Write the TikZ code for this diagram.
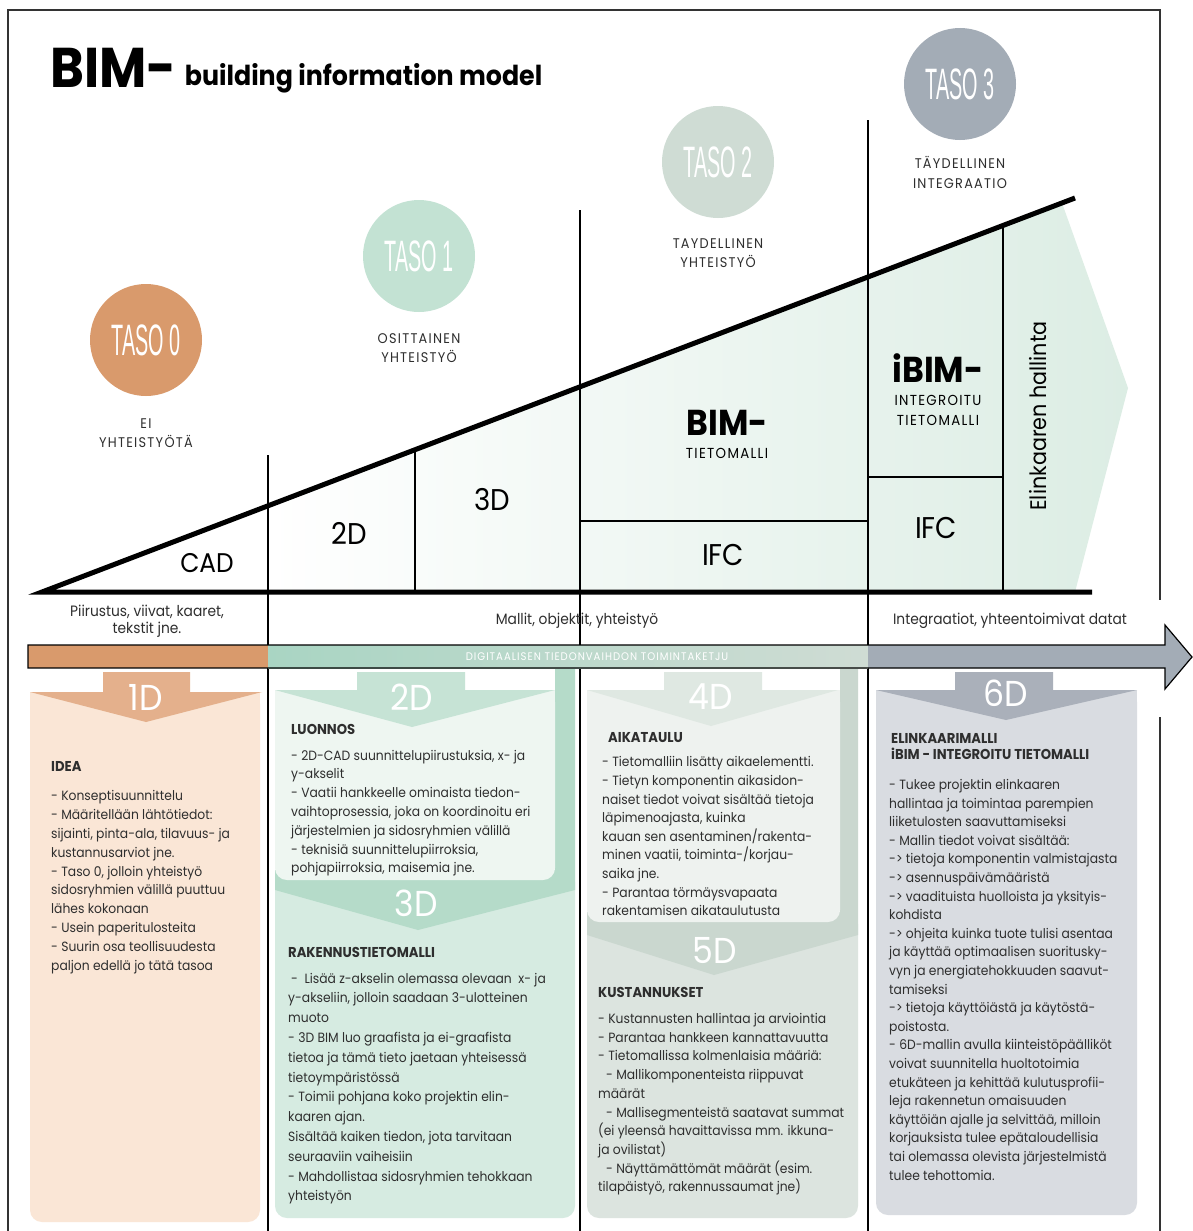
\documentclass[tikz,border=0pt]{standalone}
\usepackage{fontspec}
\setmainfont{Poppins}[FakeStretch=0.92]
\newfontfamily\capsfont{Poppins}[FakeStretch=0.92, LetterSpace=9]
\newfontfamily\tasofont{Liberation Sans}[FakeStretch=0.45]
\usetikzlibrary{positioning}

\definecolor{tasoorange}{HTML}{D99A6C}
\definecolor{tasomint}{HTML}{C3E2D3}
\definecolor{tasosage}{HTML}{CFDCD4}
\definecolor{tasogray}{HTML}{A3ACB6}
\definecolor{fillmint}{HTML}{DCEDE4}
\definecolor{txtgray}{HTML}{2E2E2E}
\definecolor{peachchev}{HTML}{E4B08C}
\definecolor{peachbody}{HTML}{FAE6D6}
\definecolor{mintchev}{HTML}{C6E3D5}
\definecolor{mintbody}{HTML}{EEF6F1}
\definecolor{mintdeep}{HTML}{B5DBC9}
\definecolor{mintlow}{HTML}{D6EBE1}
\definecolor{sagechev}{HTML}{DFE8E2}
\definecolor{sagebody}{HTML}{EEF2EF}
\definecolor{sagedeep}{HTML}{CAD7CF}
\definecolor{sagelow}{HTML}{DCE4DF}
\definecolor{graychev}{HTML}{AAB0BA}
\definecolor{graybody}{HTML}{D9DCE1}
\definecolor{bandmint}{HTML}{A9D5C3}

\tikzset{
  taso/.style = {circle, minimum size=112pt, inner sep=0pt, text=white,
    font=\tasofont\fontsize{44}{44}\selectfont},% tason pallo
  tasolab/.style = {align=center, inner sep=0pt, text=txtgray,
    font=\capsfont\fontsize{14}{19.5}\selectfont},% tason kuvaus
  part/.style = {inner sep=0pt, font=\fontsize{30}{30}\selectfont},% kolmion lohko
  bigbim/.style = {inner sep=0pt, font=\fontsize{36}{36}\selectfont\bfseries},
  smallcap/.style = {align=center, inner sep=0pt,
    font=\capsfont\fontsize{14.5}{20}\selectfont},
  dimtxt/.style = {text=white, inner sep=0pt,
    font=\fontsize{36}{36}\selectfont},% 1D ... 6D
  colhead/.style = {anchor=north west, align=left, inner sep=0pt, text=txtgray,
    font=\fontsize{14.3}{16.5}\selectfont\bfseries},% sarakkeen otsikko
  coltxt/.style = {anchor=north west, align=left, inner sep=0pt, text=txtgray,
    font=\fontsize{13.4}{18.8}\selectfont},% sarakkeen teksti
  rowtxt/.style = {align=center, inner sep=0pt, text=txtgray,
    font=\fontsize{15}{17}\selectfont},
  heavy/.style = {line width=5pt},% kolmion reunat
  divider/.style = {line width=2.6pt},
  thinline/.style = {line width=1.2pt}
}

\begin{document}
\begin{tikzpicture}[x=1pt, y=-1pt]
  \useasboundingbox (0,0) rectangle (1193,1231);
  \fill[white] (0,0) rectangle (1193,1231);

  % kolmion tausta
  \shade[left color=white, right color=fillmint]
    (268,505.8) -- (1062,203) -- (1128,388) -- (1075,592) -- (268,592) -- cycle;

  % otsikko
  \node[anchor=base west, inner sep=0pt,
    font=\fontsize{56}{56}\selectfont\bfseries] (bimtitle) at (50,88) {BIM-};
  \node[right=8pt of bimtitle.base east, anchor=base west, inner sep=0pt, yshift=3pt,
    font=\fontsize{27.5}{27.5}\selectfont\bfseries] (bimsub) {building information model};

  % tasot
  \node[taso, fill=tasoorange] (t0) at (146,340) {TASO 0};
  \node[taso, fill=tasomint] (t1) at (419,256) {TASO 1};
  \node[taso, fill=tasosage] (t2) at (718,162) {TASO 2};
  \node[taso, fill=tasogray] (t3) at (960,84) {TASO 3};
  \node[tasolab, below=22pt of t0] (t0lab) {EI\\YHTEISTYÖTÄ};
  \node[tasolab, below=21pt of t1] (t1lab) {OSITTAINEN\\YHTEISTYÖ};
  \node[tasolab, below=20pt of t2] (t2lab) {TAYDELLINEN\\YHTEISTYÖ};
  \node[tasolab, below=16pt of t3] (t3lab) {TÄYDELLINEN\\INTEGRAATIO};

  % viivat
  \coordinate (apex) at (42,592);
  \coordinate (baseEnd) at (1092,592);
  \coordinate (hypEnd) at (1075,198);
  \draw[thinline] (415,449.7) -- (415,592);
  \draw[thinline] (1003,225.5) -- (1003,592);
  \draw[thinline] (580,521) -- (868,521);
  \draw[thinline] (868,477) -- (1003,477);
  \foreach \x/\top in {268/455, 580/210, 868/120}
    \draw[divider] (\x,\top) -- (\x,1231);
  \draw[heavy] (hypEnd) -- (apex) -- (baseEnd);

  % kolmion tekstit
  \node[part, font=\fontsize{27}{27}\selectfont] (cad) at (207,563) {CAD};
  \node[part] (p2d) at (349,533) {2D};
  \node[part] (p3d) at (492,500) {3D};
  \node[part] (ifc1) at (723,555) {IFC};
  \node[part] (ifc2) at (936,528) {IFC};
  \node[bigbim] (bim) at (727,423) {BIM-};
  \node[smallcap, below=12pt of bim] (bimlab) {TIETOMALLI};
  \node[bigbim] (ibim) at (938,368) {iBIM-};
  \node[smallcap, below=12pt of ibim] (ibimlab) {INTEGROITU\\TIETOMALLI};
  \node[inner sep=0pt, rotate=90, font=\fontsize{22.5}{22.5}\selectfont]
    (elin) at (1038,416) {Elinkaaren hallinta};

  \node[rowtxt] (row0) at (147,621) {Piirustus, viivat, kaaret,\\tekstit jne.};
  \node[rowtxt] (row1) at (577,621) {Mallit, objektit, yhteistyö};
  \node[rowtxt] (row2) at (1010,621) {Integraatiot, yhteentoimivat datat};

  % 1D
  \fill[peachbody, rounded corners=12pt] (30,692) rectangle (260,1222);
  \fill[peachbody] (30,692) rectangle (260,720);
  \fill[peachchev] (103,672) -- (190,672) -- (190,692) -- (262,692) -- (146,722)
    -- (30,692) -- (103,692) -- cycle;
  \node[dimtxt] (d1) at (146,697) {1D};

  % 2D ja 3D
  \fill[mintlow, rounded corners=12pt] (275,870) rectangle (575,1218);
  \fill[mintdeep] (555,668) -- (575,668) -- (575,890) -- (418,930) -- (275,890)
    -- (275,870) -- (555,870) -- cycle;
  \fill[mintbody, rounded corners=12pt] (275,690) rectangle (555,880);
  \fill[mintbody] (275,690) rectangle (555,720);
  \fill[mintchev] (357,672) -- (465,672) -- (465,690) -- (555,690) -- (412,727)
    -- (275,690) -- (357,690) -- cycle;
  \node[dimtxt] (d2) at (412,697) {2D};
  \node[dimtxt] (d3) at (416,903) {3D};

  % 4D ja 5D
  \fill[sagelow, rounded corners=12pt] (587,912) rectangle (858,1218);
  \fill[sagedeep] (840,668) -- (858,668) -- (858,935) -- (714,975) -- (587,935)
    -- (587,912) -- (840,912) -- cycle;
  \fill[sagebody, rounded corners=12pt] (587,690) rectangle (840,922);
  \fill[sagebody] (587,690) rectangle (840,720);
  \fill[sagechev] (664,672) -- (762,672) -- (762,690) -- (838,690) -- (711,726)
    -- (587,690) -- (664,690) -- cycle;
  \node[dimtxt] (d4) at (711,697) {4D};
  \node[dimtxt] (d5) at (715,950) {5D};

  % 6D
  \fill[graybody, rounded corners=12pt] (876,690) rectangle (1137,1215);
  \fill[graybody] (876,690) rectangle (1137,720);
  \fill[graychev] (955,672) -- (1053,672) -- (1053,690) -- (1137,690) -- (1006,720)
    -- (876,690) -- (955,690) -- cycle;
  \node[dimtxt] (d6) at (1006,693) {6D};

  % toimintaketju
  \fill[tasoorange] (28,645) rectangle (268,668);
  \shade[left color=bandmint, right color=tasosage] (268,645) rectangle (868,668);
  \fill[tasogray] (868,645) -- (1165,645) -- (1165,625) -- (1192,657) -- (1165,689)
    -- (1165,668) -- (868,668) -- cycle;
  \draw[thinline] (28,645) -- (1165,645) -- (1165,625) -- (1192,657) -- (1165,689)
    -- (1165,668) -- (28,668) -- cycle;
  \node[text=white, inner sep=0pt, font=\capsfont\fontsize{11}{11}\selectfont]
    (band) at (597,657) {DIGITAALISEN TIEDONVAIHDON TOIMINTAKETJU};

  % kehys
  \draw[line width=1.8pt, black!80] (8,1231) -- (8,10) -- (1160,10) -- (1160,600);
  \draw[line width=1.8pt, black!80] (1160,717) -- (1160,1231);

  % sarakkeiden tekstit
  \node[colhead] (idea) at (51,761) {IDEA};
  \node[below=19pt of idea.south west, coltxt] (ideatxt) {- Konseptisuunnittelu\\
    - Määritellään lähtötiedot:\\sijainti, pinta-ala, tilavuus- ja\\
    kustannusarviot jne.\\- Taso 0, jolloin yhteistyö\\
    sidosryhmien välillä puuttuu\\lähes kokonaan\\- Usein paperitulosteita\\
    - Suurin osa teollisuudesta\\paljon edellä jo tätä tasoa};

  \node[colhead] (luon) at (291,724) {LUONNOS};
  \node[below=15pt of luon.south west, coltxt] (luontxt) {- 2D-CAD suunnittelupiirustuksia, x- ja\\
    y-akselit\\- Vaatii hankkeelle ominaista tiedon-\\
    vaihtoprosessia, joka on koordinoitu eri\\
    järjestelmien ja sidosryhmien välillä\\
    - teknisiä suunnittelupiirroksia,\\pohjapiirroksia, maisemia jne.};

  \node[colhead] (rak) at (288,947) {RAKENNUSTIETOMALLI};
  \node[below=15pt of rak.south west, coltxt, font=\fontsize{13.4}{19.8}\selectfont]
    (raktxt) {\hspace*{3pt}- \ Lisää z-akselin olemassa olevaan \ x- ja\\
    y-akseliin, jolloin saadaan 3-ulotteinen\\muoto\\
    - 3D BIM luo graafista ja ei-graafista\\
    tietoa ja tämä tieto jaetaan yhteisessä\\tietoympäristössä\\
    - Toimii pohjana koko projektin elin-\\kaaren ajan.\\
    Sisältää kaiken tiedon, jota tarvitaan\\seuraaviin vaiheisiin\\
    - Mahdollistaa sidosryhmien tehokkaan\\yhteistyön};

  \node[colhead] (aika) at (608,732) {AIKATAULU};
  \node[below=14pt of aika.south west, coltxt, xshift=-6pt,
    font=\fontsize{13.4}{18.6}\selectfont] (aikatxt) {- Tietomalliin lisätty aikaelementti.\\
    - Tietyn komponentin aikasidon-\\naiset tiedot voivat sisältää tietoja\\
    läpimenoajasta, kuinka\\kauan sen asentaminen/rakenta-\\
    minen vaatii, toiminta-/korjau-\\saika jne.\\
    - Parantaa törmäysvapaata\\rakentamisen aikataulutusta};

  \node[colhead] (kust) at (598,987) {KUSTANNUKSET};
  \node[below=15.5pt of kust.south west, coltxt, font=\fontsize{13.4}{18.7}\selectfont]
    (kusttxt) {- Kustannusten hallintaa ja arviointia\\
    - Parantaa hankkeen kannattavuutta\\
    - Tietomallissa kolmenlaisia määriä:\\
    \hspace*{8pt}- Mallikomponenteista riippuvat\\määrät\\
    \hspace*{8pt}- Mallisegmenteistä saatavat summat\\
    (ei yleensä havaittavissa mm. ikkuna-\\ja ovilistat)\\
    \hspace*{8pt}- Näyttämättömät määrät (esim.\\
    tilapäistyö, rakennussaumat jne)};

  \node[colhead] (elinm) at (891,733) {ELINKAARIMALLI\\iBIM - INTEGROITU TIETOMALLI};
  \node[below=19pt of elinm.south west, coltxt, xshift=-2pt,
    font=\fontsize{13.4}{18.6}\selectfont] (elinmtxt) {- Tukee projektin elinkaaren\\
    hallintaa ja toimintaa parempien\\liiketulosten saavuttamiseksi\\
    - Mallin tiedot voivat sisältää:\\
    -{}> tietoja komponentin valmistajasta\\
    -{}> asennuspäivämääristä\\
    -{}> vaadituista huolloista ja yksityis-\\kohdista\\
    -{}> ohjeita kuinka tuote tulisi asentaa\\
    ja käyttää optimaalisen suoritusky-\\
    vyn ja energiatehokkuuden saavut-\\tamiseksi\\
    -{}> tietoja käyttöiästä ja käytöstä-\\poistosta.\\
    - 6D-mallin avulla kiinteistöpäälliköt\\
    voivat suunnitella huoltotoimia\\
    etukäteen ja kehittää kulutusprofii-\\
    leja rakennetun omaisuuden\\
    käyttöiän ajalle ja selvittää, milloin\\
    korjauksista tulee epätaloudellisia\\
    tai olemassa olevista järjestelmistä\\
    tulee tehottomia.};
\end{tikzpicture}
\end{document}
